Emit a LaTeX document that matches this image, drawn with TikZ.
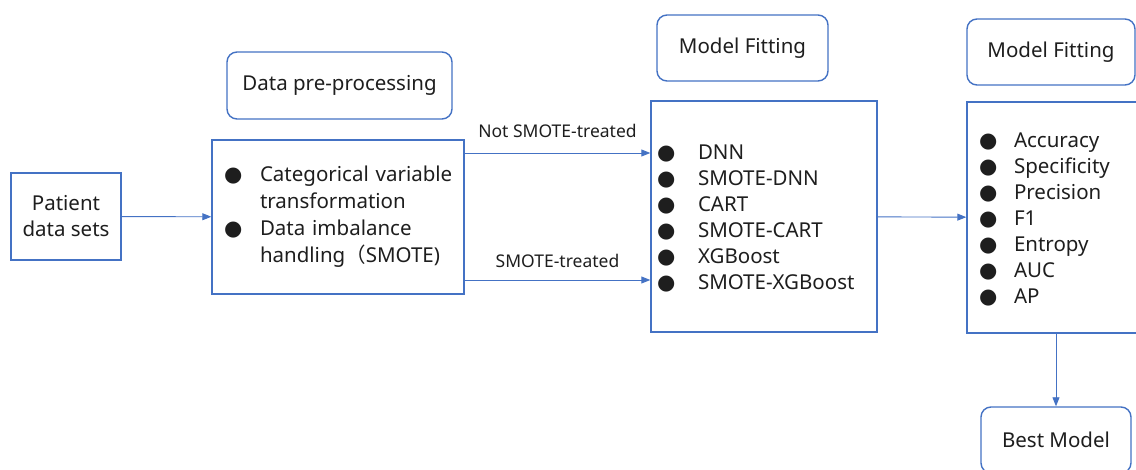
\documentclass[tikz,border=0pt]{standalone}
\usepackage{fontspec}
\usepackage{tikz}
\usetikzlibrary{arrows.meta}
\setmainfont{Noto Sans}
\newfontfamily\cjk{Noto Sans CJK SC}
\newfontfamily\dejavu{DejaVu Sans}
\definecolor{boxblue}{RGB}{68,114,196}
\definecolor{txtgray}{RGB}{30,30,30}
\newcommand{\bl}{{\dejavu\fontsize{21}{21}\selectfont ●}}

\begin{document}
\begin{tikzpicture}[
        x=1pt, y=-1pt,
        font=\fontsize{20.5}{26}\selectfont,
        box/.style={rectangle, draw=boxblue, line width=1.4pt, fill=white, text=txtgray, inner sep=0pt, align=center},
        titlebox/.style={box, rounded corners=10pt},
        listbox/.style={box, align=left},
        arrow/.style={-{Triangle[length=9pt,width=7pt]}, draw=boxblue, line width=0.9pt},
        lbl/.style={font=\fontsize{17.5}{20}\selectfont, text=txtgray}
    ]
        \clip (0,0) rectangle (1136,470);

        % inputs and pre-processing
        \node[box, minimum width=110, minimum height=87] (patient) at (66,216.5) {Patient\\data sets};
        \node[titlebox, minimum width=225, minimum height=67] (preptitle) at (339.5,85.5) {Data pre-processing};
        \node[listbox, minimum width=252, minimum height=154, inner xsep=12pt, text width=228pt,
              font=\fontsize{20.5}{27}\selectfont] (prep) at (338,217)
            {\begin{tabular}{@{}p{36pt}@{}l@{}}
                \bl & Categorical variable\\
                    & transformation\\
                \bl & Data imbalance\\
                    & handling{\cjk （}SMOTE)
             \end{tabular}};

        % models
        \node[titlebox, minimum width=171, minimum height=66] (fittitle) at (742.5,48) {Model Fitting};
        \node[listbox, minimum width=226, minimum height=231, inner xsep=6pt, text width=214pt] (models) at (764,216.5)
            {\raisebox{-3pt}[\height][\depth]{\begin{tabular}{@{}p{41pt}@{}l@{}}
                \bl & DNN\\
                \bl & SMOTE-DNN\\
                \bl & CART\\
                \bl & SMOTE-CART\\
                \bl & XGBoost\\
                \bl & SMOTE-XGBoost
             \end{tabular}}};

        % evaluation
        \node[titlebox, minimum width=168, minimum height=66] (evaltitle) at (1051,52) {Model Fitting};
        \node[listbox, minimum width=200, minimum height=231, inner xsep=12pt, text width=176pt] (metrics) at (1067,217.5)
            {\raisebox{-3pt}[\height][\depth]{\begin{tabular}{@{}p{35pt}@{}l@{}}
                \bl & Accuracy\\
                \bl & Specificity\\
                \bl & Precision\\
                \bl & F1\\
                \bl & Entropy\\
                \bl & AUC\\
                \bl & AP
             \end{tabular}}};
        \node[titlebox, minimum width=150, minimum height=66] (best) at (1056,440) {Best Model};

        \draw[arrow] (patient) -- (prep);
        \draw[arrow] ([yshift=64pt]prep.east) -- ([yshift=63.5pt]models.west)
            node[lbl, midway, above=12pt] {Not SMOTE-treated};
        \draw[arrow] ([yshift=-63pt]prep.east) -- ([yshift=-63.5pt]models.west)
            node[lbl, midway, above=9pt] {SMOTE-treated};
        \draw[arrow] (models) -- (metrics);
        \draw[arrow] (best.north |- metrics.south) -- (best.north);
    \end{tikzpicture}
\end{document}
